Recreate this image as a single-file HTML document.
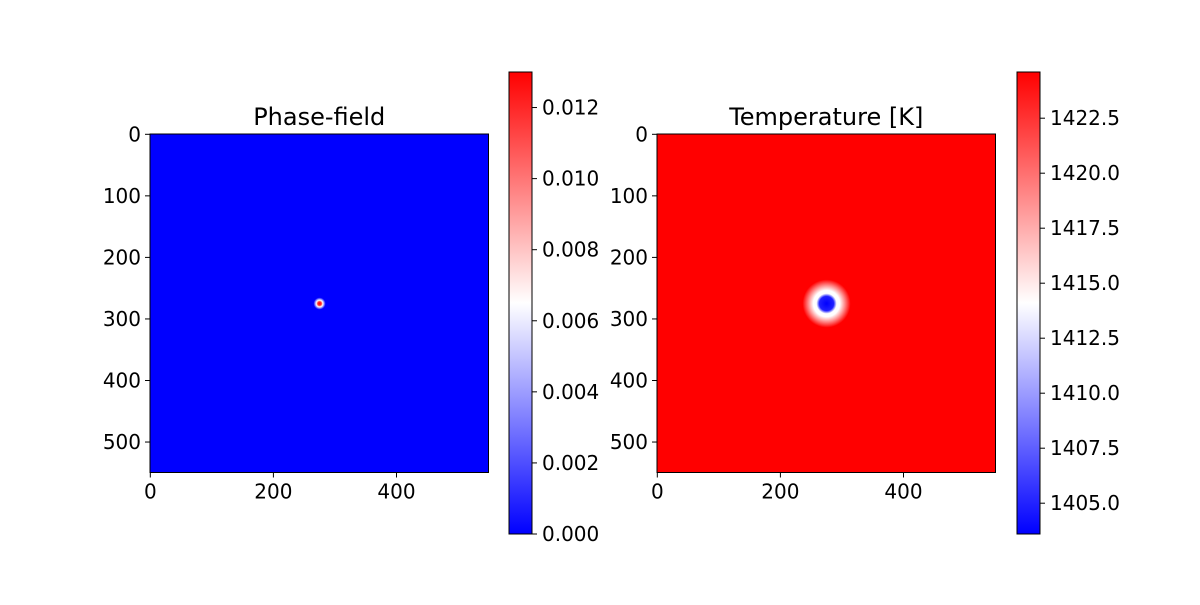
<!DOCTYPE html>
<html><head><meta charset="utf-8"><style>
body{margin:0;background:#fff}
svg text{font-family:"DejaVu Sans","Liberation Sans",sans-serif;fill:#000}
</style></head><body>
<svg id="fig" width="1200" height="600" xmlns="http://www.w3.org/2000/svg">
<defs>
<linearGradient id="bwr" x1="0" y1="1" x2="0" y2="0">
<stop offset="0" stop-color="#0000ff"/><stop offset="0.5" stop-color="#ffffff"/><stop offset="1" stop-color="#ff0000"/>
</linearGradient>
<radialGradient id="pfBlob">
<stop offset="0" stop-color="#ff0000"/><stop offset="0.3" stop-color="#ff3030"/><stop offset="0.55" stop-color="#ffffff"/><stop offset="1" stop-color="#0000ff"/>
</radialGradient>
<radialGradient id="tBlob">
<stop offset="0" stop-color="#0000ff"/><stop offset="0.3" stop-color="#2020ff"/><stop offset="0.42" stop-color="#ffffff"/><stop offset="0.55" stop-color="#ffffff"/><stop offset="0.75" stop-color="#ff9090"/><stop offset="1" stop-color="#ff0000"/>
</radialGradient>
</defs>
<g id="root"></g>
</svg>
<script>
const xTicks=[0,200,400];
const yTicks=[0,100,200,300,400,500];
const seedX=275, seedY=275;
const pfRange=[0,0.0130];
const pfTicks=[0,0.002,0.004,0.006,0.008,0.010,0.012];
const tRange=[1403.6,1424.6];
const tTicks=[1405.0,1407.5,1410.0,1412.5,1415.0,1417.5,1420.0,1422.5];
const titles=["Phase-field","Temperature [K]"];

const NS="http://www.w3.org/2000/svg";
const root=document.getElementById('root');
function mk(tag,attrs,parent){const e=document.createElementNS(NS,tag);for(const k in attrs)e.setAttribute(k,attrs[k]);(parent||root).appendChild(e);return e;}
const panels=[{x0:150,bg:"#0000ff",blob:"url(#pfBlob)",r:6,cb:509,range:pfRange,ticks:pfTicks,fmt:v=>v.toFixed(3)},
{x0:657,bg:"#ff0000",blob:"url(#tBlob)",r:24,cb:1017,range:tRange,ticks:tTicks,fmt:v=>v.toFixed(1)}];
const y0=134, size=338.5, ext=550;
panels.forEach((p,i)=>{
 const sx=v=>p.x0+(v+0.5)/ext*size, sy=v=>y0+(v+0.5)/ext*size;
 const g=mk('g',{});
 
 
 const bg=mk('rect',{x:p.x0,y:y0,width:size,height:size,fill:p.bg},g);
 
 
 const b=mk('circle',{cx:sx(seedX),cy:sy(seedY),r:p.r,fill:p.blob},g);
 
 
 mk('rect',{x:p.x0,y:y0,width:size,height:size,fill:'none',stroke:'#000','stroke-width':1},g);
 const t=mk('text',{x:p.x0+size/2,y:y0-9,'text-anchor':'middle','font-size':24},g);t.textContent=titles[i];
 
 
 xTicks.forEach(v=>{const x=sx(v);mk('line',{x1:x,x2:x,y1:y0+size,y2:y0+size+5,stroke:'#000'},g);
  const tx=mk('text',{x:x,y:y0+size+26,'text-anchor':'middle','font-size':20},g);tx.textContent=v;
  
  });
 yTicks.forEach(v=>{const y=sy(v);mk('line',{x1:p.x0-5,x2:p.x0,y1:y,y2:y,stroke:'#000'},g);
  const ty=mk('text',{x:p.x0-9,y:y+7,'text-anchor':'end','font-size':20},g);ty.textContent=v;
  
  });
 const cy0=72,cy1=534,cw=23;
 const cb=mk('rect',{x:p.cb,y:cy0,width:cw,height:cy1-cy0,fill:'url(#bwr)',stroke:'#000','stroke-width':1},g);
 
 
 const cs=v=>cy1-(v-p.range[0])/(p.range[1]-p.range[0])*(cy1-cy0);
 p.ticks.forEach(v=>{const y=cs(v);mk('line',{x1:p.cb+cw,x2:p.cb+cw+5,y1:y,y2:y,stroke:'#000'},g);
  const tl=mk('text',{x:p.cb+cw+10,y:y+7,'font-size':20},g);tl.textContent=p.fmt(v);
  
  });
});
</script>
</body></html>
